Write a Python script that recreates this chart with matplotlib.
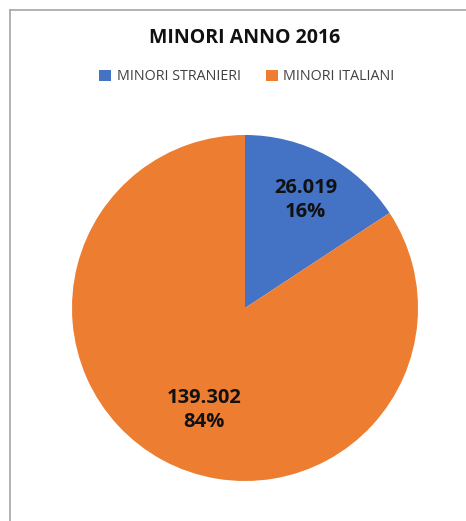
import matplotlib
matplotlib.use("Agg")
import numpy as np
import matplotlib.pyplot as plt
from matplotlib.lines import Line2D
from matplotlib.patches import Patch

categories = ["MINORI STRANIERI", "MINORI ITALIANI"]
values = [26019, 139302]
value_labels = ["26.019", "139.302"]
colors = ["#4472C4", "#ED7D31"]
title = "MINORI ANNO 2016"

# label placement style (radius fraction, angular offset in degrees)
label_radius = [0.715, 0.635]
label_angle_shift = [-1.0, 6.5]

W, H = 466, 521
fig = plt.figure(figsize=(W / 100, H / 100), dpi=100)
fig.patch.set_facecolor("white")

# outer border (left and top visible only)
fig.add_artist(Line2D([10 / W, 10 / W], [0, 1 - 10 / H], color="#A6A6A6", lw=1.2, transform=fig.transFigure))
fig.add_artist(Line2D([10 / W, 1], [1 - 10 / H, 1 - 10 / H], color="#A6A6A6", lw=1.2, transform=fig.transFigure))

cx, cy, r = 245, 308, 173
ax = fig.add_axes([(cx - r) / W, (H - cy - r) / H, 2 * r / W, 2 * r / H])

wedges, _ = ax.pie(
    values, colors=colors, startangle=90, counterclock=False,
    wedgeprops=dict(linewidth=0),
)
ax.set_aspect("equal")
ax.set_xlim(-1, 1)
ax.set_ylim(-1, 1)

total = sum(values)
for w, v, vl, rr, sh in zip(wedges, values, value_labels, label_radius, label_angle_shift):
    mid = np.deg2rad((w.theta1 + w.theta2) / 2 + sh)
    pct = 100 * v / total
    ax.text(rr * np.cos(mid), rr * np.sin(mid), f"{vl}\n{pct:.0f}%",
            ha="center", va="center", fontsize=14.5, fontweight="bold",
            family="Open Sans", color="#111111", linespacing=1.3)

fig.text(cx / W, 1 - 38 / H, title, ha="center", va="center", fontsize=14,
         fontweight="bold", family="Open Sans", color="#111111")

handles = [Patch(facecolor=c, edgecolor="none") for c in colors]
fig.legend(handles, categories, loc="center", bbox_to_anchor=(247 / W, 1 - 77 / H),
           ncol=2, frameon=False, prop=dict(family="Open Sans", size=10.3),
           handlelength=0.8, handleheight=0.8, handletextpad=0.4, columnspacing=1.8,
           labelcolor="#404040")

fig.savefig("out.png", dpi=100, facecolor="white")
